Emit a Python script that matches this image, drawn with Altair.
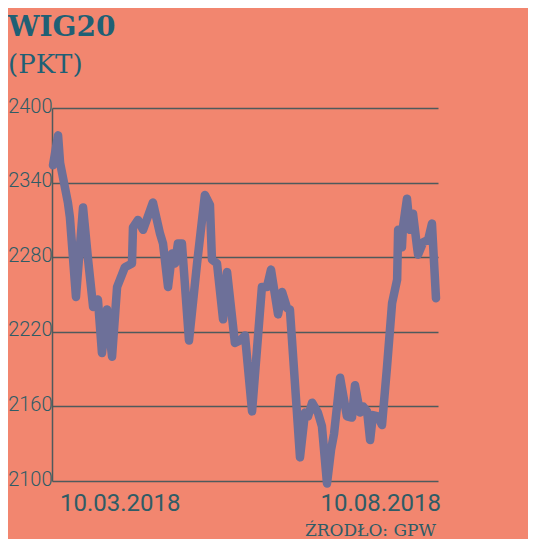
import altair as alt
import pandas as pd

# Trading-day offset from 10.03.2018 (approx.) and WIG20 level
dzien = [0.4, 2.4, 3.2, 6.3, 7.1, 9.5, 12.3, 14.3, 16.3, 18.2, 19.8, 21.8, 23.8, 25.8,
         28.9, 31.7, 32.1, 34.1, 36.1, 40.0, 42.8, 44.0, 46.0, 47.6, 48.8, 49.9, 51.5,
         54.3, 57.5, 60.6, 62.6, 63.4, 65.4, 67.8, 69.4, 72.5, 74.5, 76.5, 79.3, 83.2,
         85.2, 86.8, 89.6, 91.2, 93.2, 94.3, 98.3, 100.3, 101.5, 103.1, 105.4, 107.0,
         109.0, 110.6, 111.8, 114.2, 116.9, 118.9, 120.1, 122.1, 123.3, 124.9, 126.1,
         127.2, 129.2, 130.8, 132.8, 134.8, 136.8, 137.2, 138.7, 139.1, 140.7, 141.9,
         143.1, 144.7, 145.1, 147.1, 149.1, 150.6, 152.2]
wig20 = [2354, 2378, 2356, 2324, 2312, 2248, 2320, 2278, 2240, 2246, 2203, 2238, 2200, 2256,
         2272, 2275, 2304, 2310, 2302, 2324, 2299, 2291, 2256, 2283, 2275, 2291, 2291,
         2213, 2275, 2330, 2322, 2278, 2275, 2230, 2268, 2211, 2213, 2217, 2156, 2256,
         2256, 2270, 2234, 2252, 2239, 2238, 2119, 2155, 2152, 2163, 2155, 2144,
         2098, 2125, 2138, 2183, 2152, 2151, 2177, 2155, 2160, 2156, 2133,
         2153, 2152, 2145, 2192, 2243, 2262, 2302, 2288, 2304, 2327, 2302,
         2315, 2288, 2282, 2292, 2294, 2307, 2247]

y_ticks = [2100, 2160, 2220, 2280, 2340, 2400]
date_labels = ["10.03.2018", "10.08.2018"]
title = "WIG20"
subtitle = "(PKT)"
source = "ŹRODŁO: GPW"

BG = "#F2866F"
LINE = "#6D7099"
GRID = "#4E5A5C"
TEXT = "#2E5C66"
TITLE = "#1F6075"

df = pd.DataFrame({"dzien": dzien, "wig20": wig20})

W, H = 386, 373

line = alt.Chart(df).mark_line(
    color=LINE, strokeWidth=8.5, strokeCap="round", strokeJoin="round"
).encode(
    x=alt.X("dzien:Q", scale=alt.Scale(domain=[0, 153], nice=False, zero=False), axis=None),
    y=alt.Y("wig20:Q",
            scale=alt.Scale(domain=[2100, 2400], nice=False, zero=False),
            axis=alt.Axis(values=y_ticks, format="d", title=None, grid=True,
                          gridColor=GRID, gridWidth=1.5, gridOpacity=1, domain=True,
                          domainColor=GRID, domainWidth=1.5, ticks=False, labelPadding=0,
                          labelFont="Roboto", labelFontWeight=300, labelFontSize=20,
                          labelColor=TEXT, labelAlign="right", labelBaseline="middle",
                          labelOffset=-2)),
)

def txt(s, x, y, size, font, weight="normal", color=TEXT, align="left"):
    return alt.Chart(pd.DataFrame({"t": [s]})).mark_text(
        font=font, fontSize=size, fontWeight=weight, color=color, align=align,
        baseline="alphabetic"
    ).encode(x=alt.value(x), y=alt.value(y), text="t:N")

layers = [
    line,
    txt(title, -44, -72, 28, "DejaVu Serif", "bold", TITLE),
    txt(subtitle, -44, -35, 26, "DejaVu Serif", "normal", TITLE),
    txt(date_labels[0], 8, 403, 24, "Roboto", "normal", TEXT),
    txt(date_labels[1], 389, 403, 24, "Roboto", "normal", TEXT, "right"),
    txt(source, 384, 428, 17, "DejaVu Serif", "normal", TEXT, "right"),
]

chart = alt.layer(*layers).properties(
    width=W, height=H, background=BG,
    padding={"left": 44, "top": 100, "right": 90, "bottom": 58},
    autosize=alt.AutoSizeParams(type="none"),
).configure_view(stroke=None)

chart.save("out.html", embed_options={"renderer": "svg", "actions": False})
